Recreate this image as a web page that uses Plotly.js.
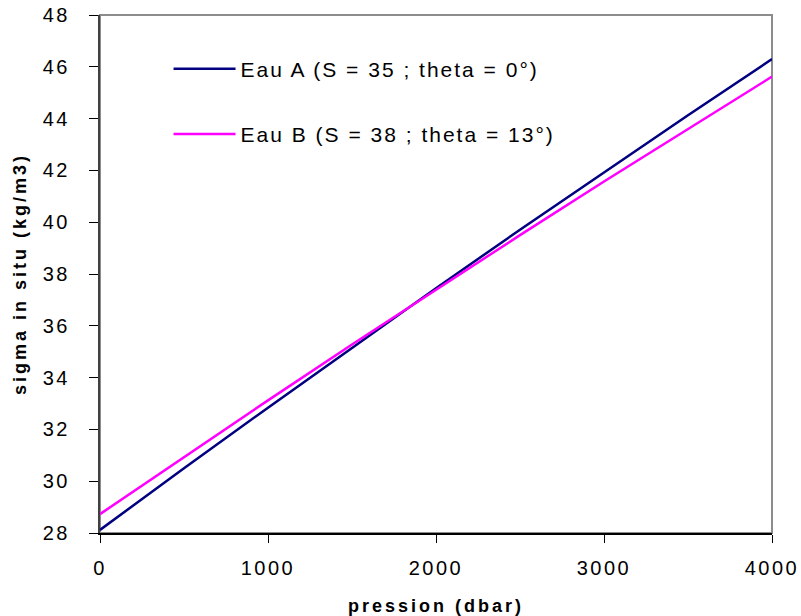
<!DOCTYPE html>
<html>
<head>
<meta charset="utf-8">
<script src="https://cdn.plot.ly/plotly-3.0.1.min.js"></script>
<style>
  html, body { margin: 0; padding: 0; background: #fff; }
  #chart { width: 801px; height: 616px; }
  .xtick text, .ytick text { letter-spacing: 2.5px; }
  .legendtext { letter-spacing: 2px; }
  .xtitle, .ytitle { letter-spacing: 3px; }
</style>
</head>
<body>
<div id="chart"></div>
<script>
// Pressure (dbar)
const pression = [0, 500, 1000, 1500, 2000, 2500, 3000, 3500, 4000];
// sigma in situ (kg/m3)
const eauA = [28.12, 30.50, 32.84, 35.16, 37.45, 39.71, 41.93, 44.13, 46.30];
const eauB = [28.73, 30.94, 33.12, 35.28, 37.40, 39.50, 41.57, 43.61, 45.62];
const nomA = "Eau A (S = 35 ; theta = 0°)";
const nomB = "Eau B (S = 38 ; theta = 13°)";
const xTicks = [0, 1000, 2000, 3000, 4000];
const yTicks = [28, 30, 32, 34, 36, 38, 40, 42, 44, 46, 48];

const font = "Liberation Sans, Arial, sans-serif";

const traces = [
  { x: pression, y: eauA, name: nomA, mode: "lines", legendgroup: "a",
    line: { color: "#000080", width: 2.5 } },
  { x: pression, y: eauB, name: nomB, mode: "lines", legendgroup: "b",
    line: { color: "#FF00FF", width: 2.5 } }
];

const layout = {
  width: 801, height: 616,
  margin: { l: 100, r: 29, t: 15, b: 83 },
  paper_bgcolor: "#ffffff", plot_bgcolor: "#ffffff",
  font: { family: font, color: "#000" },
  showlegend: true,
  legend: {
    x: 0.102, y: 0.935, xanchor: "left", yanchor: "top",
    bgcolor: "rgba(0,0,0,0)", borderwidth: 0,
    font: { family: font, size: 21, color: "#000" },
    traceorder: "grouped", tracegroupgap: 35, itemwidth: 62
  },
  xaxis: {
    range: [0, 4000], tickvals: xTicks, ticktext: xTicks.map(String),
    showgrid: false, zeroline: false,
    showline: true, linecolor: "#000", linewidth: 1.5,
    ticks: "outside", ticklen: 8, tickcolor: "#000", tickwidth: 1,
    ticklabelstandoff: 8,
    tickfont: { family: font, size: 20, color: "#000" },
    title: { text: "pression (dbar)", font: { family: font, size: 18, weight: "bold", color: "#000" }, standoff: 22 }
  },
  yaxis: {
    range: [28, 48], tickvals: yTicks, ticktext: yTicks.map(String),
    showgrid: false, zeroline: false,
    showline: true, linecolor: "#404040", linewidth: 2,
    ticks: "outside", ticklen: 9, tickcolor: "#000", tickwidth: 1,
    ticklabelstandoff: 15,
    tickfont: { family: font, size: 20, color: "#000" },
    title: { text: "sigma in situ (kg/m3)", font: { family: font, size: 18, weight: "bold", color: "#000" }, standoff: 11 }
  },
  shapes: [
    { type: "rect", xref: "paper", yref: "paper", x0: 0, x1: 1, y0: 0, y1: 1,
      line: { color: "#8c8c8c", width: 2 }, layer: "below" }
  ]
};

Plotly.newPlot("chart", traces, layout, { displayModeBar: false, staticPlot: true });
</script>
</body>
</html>
